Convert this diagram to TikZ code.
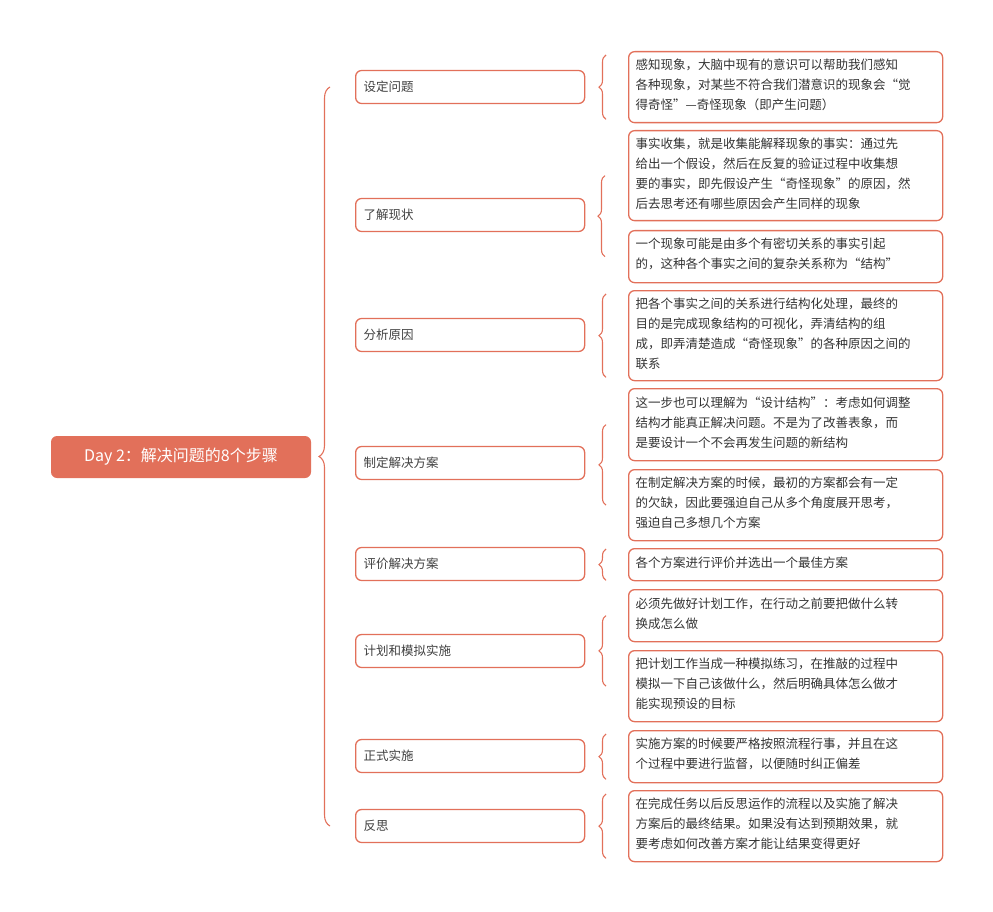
\documentclass[tikz,border=0pt]{standalone}
\usepackage{fontspec}
\setmainfont{Noto Sans CJK SC}
\usetikzlibrary{decorations.pathreplacing,calc}
\definecolor{mc}{HTML}{E2705A}
\begin{document}
\begin{tikzpicture}[x=1pt,y=-1pt,
  br/.style={draw=mc,line width=1.3pt,rounded corners=6pt,minimum width=229pt,minimum height=33pt,anchor=west,align=left,text width=213pt,font=\fontsize{12.5}{16}\selectfont,text=black!75,inner xsep=8pt},
  lf/.style={draw=mc,line width=1.3pt,rounded corners=6pt,anchor=north west,text width=300pt,align=left,font=\fontsize{12.5}{20}\selectfont,text=black!80,inner xsep=7pt,inner ysep=0pt},
  bc/.style={draw=mc,line width=1.1pt,decorate,decoration={brace,amplitude=7pt}}]
\useasboundingbox (0,0) rectangle (993,912);
\node[fill=mc,rounded corners=6pt,minimum width=260pt,minimum height=42pt,text=white,font=\fontsize{16}{18}\selectfont] (root) at (181,457) {Day 2：解决问题的8个步骤};
\foreach \n/\y/\t in {b1/87/设定问题,b2/215/了解现状,b3/335/分析原因,b4/463/制定解决方案,b5/564/评价解决方案,b6/651/计划和模拟实施,b7/756/正式实施,b8/826/反思}
  \node[br] (\n) at (355,\y) {\t};
\newcommand{\leaf}[4]{\node[lf,minimum height=#3pt] (#1) at (628,#2) {\vspace*{6pt}\\[-20pt]#4};}
\leaf{l1}{51}{71}{感知现象，大脑中现有的意识可以帮助我们感知\\各种现象，对某些不符合我们潜意识的现象会“觉\\得奇怪”---奇怪现象（即产生问题）}
\leaf{l2}{130}{90}{事实收集，就是收集能解释现象的事实：通过先\\给出一个假设，然后在反复的验证过程中收集想\\要的事实，即先假设产生“奇怪现象”的原因，然\\后去思考还有哪些原因会产生同样的现象}
\leaf{l3}{230}{52}{一个现象可能是由多个有密切关系的事实引起\\的，这种各个事实之间的复杂关系称为“结构”}
\leaf{l4}{290}{90}{把各个事实之间的关系进行结构化处理，最终的\\目的是完成现象结构的可视化，弄清结构的组\\成，即弄清楚造成“奇怪现象”的各种原因之间的\\联系}
\leaf{l5}{388}{72}{这一步也可以理解为“设计结构”：考虑如何调整\\结构才能真正解决问题。不是为了改善表象，而\\是要设计一个不会再发生问题的新结构}
\leaf{l6}{469}{71}{在制定解决方案的时候，最初的方案都会有一定\\的欠缺，因此要强迫自己从多个角度展开思考，\\强迫自己多想几个方案}
\leaf{l7}{548}{32}{各个方案进行评价并选出一个最佳方案}
\leaf{l8}{589}{52}{必须先做好计划工作，在行动之前要把做什么转\\换成怎么做}
\leaf{l9}{650}{71}{把计划工作当成一种模拟练习，在推敲的过程中\\模拟一下自己该做什么，然后明确具体怎么做才\\能实现预设的目标}
\leaf{l10}{730}{52}{实施方案的时候要严格按照流程行事，并且在这\\个过程中要进行监督，以便随时纠正偏差}
\leaf{l11}{790}{71}{在完成任务以后反思运作的流程以及实施了解决\\方案后的最终结果。如果没有达到预期效果，就\\要考虑如何改善方案才能让结果变得更好}
% main brace
\draw[bc,decoration={amplitude=11pt}] ($(b8.west)+(-25,0)$) -- ($(b1.west)+(-25,0)$);
% small braces
\draw[bc] ($(l1.south west)+(-22,-4)$) -- ($(l1.north west)+(-22,4)$);
\draw[bc] (l3.west-|590,0) ++(15,0) -- ($(l2.west-|605,0)$);
\draw[bc] ($(l4.south west)+(-22,-4)$) -- ($(l4.north west)+(-22,4)$);
\draw[bc] ($(l6.west)+(-22,0)$) -- ($(l5.west)+(-22,0)$);
\draw[bc] ($(l7.south west)+(-22,-1)$) -- ($(l7.north west)+(-22,1)$);
\draw[bc] ($(l9.west)+(-22,0)$) -- ($(l8.west)+(-22,0)$);
\draw[bc] ($(l10.south west)+(-22,-4)$) -- ($(l10.north west)+(-22,4)$);
\draw[bc] ($(l11.south west)+(-22,-4)$) -- ($(l11.north west)+(-22,4)$);
\end{tikzpicture}
\end{document}
